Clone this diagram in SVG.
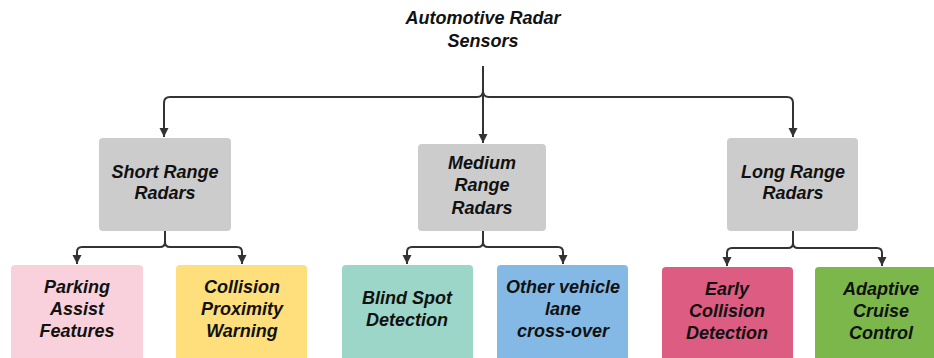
<svg xmlns="http://www.w3.org/2000/svg" width="934" height="358" viewBox="0 0 934 358">
<style>
.t{font-family:"Liberation Sans",Arial,sans-serif;font-size:18px;font-weight:bold;font-style:italic;fill:#111;text-anchor:middle;dominant-baseline:central}
.c{fill:none;stroke:#333;stroke-width:2;marker-end:url(#a)}
.g{fill:#cccccc}
</style>
<defs>
<marker id="a" markerWidth="10" markerHeight="10" refX="9" refY="5" orient="auto" markerUnits="userSpaceOnUse">
<path d="M0,0.5 L9,5 L0,9.5 Z" fill="#333"/>
</marker>
</defs>
<rect width="934" height="358" fill="#fff"/>
<g id="connectors">
<path class="c" d="M483,66 V91 Q483,97 477,97 H170 Q164,97 164,103 V137"/>
<path class="c" d="M483,66 V91 Q483,97 489,97 H787 Q793,97 793,103 V137"/>
<path class="c" d="M483,66 V143"/>
<path class="c" d="M165,231 V242 Q165,247 160,247 H82 Q77,247 77,252 V264"/>
<path class="c" d="M165,231 V242 Q165,247 170,247 H237 Q242,247 242,252 V264"/>
<path class="c" d="M483,231 V242 Q483,247 478,247 H412 Q407,247 407,252 V264"/>
<path class="c" d="M483,231 V242 Q483,247 488,247 H558 Q563,247 563,252 V264"/>
<path class="c" d="M793,231 V243 Q793,248 788,248 H732 Q727,248 727,253 V266"/>
<path class="c" d="M793,231 V243 Q793,248 798,248 H877 Q882,248 882,253 V266"/>
</g>
<g id="root">
<text class="t" x="483" y="18">Automotive Radar</text>
<text class="t" x="483" y="41">Sensors</text>
</g>
<g id="short">
<rect class="g" x="99" y="138" width="132" height="93" rx="4"/>
<text class="t" x="165" y="172">Short Range</text>
<text class="t" x="165" y="193">Radars</text>
</g>
<g id="medium">
<rect class="g" x="418" y="144" width="128" height="87" rx="4"/>
<text class="t" x="482" y="163">Medium</text>
<text class="t" x="482" y="185">Range</text>
<text class="t" x="482" y="208">Radars</text>
</g>
<g id="long">
<rect class="g" x="727" y="138" width="131" height="93" rx="4"/>
<text class="t" x="793" y="172">Long Range</text>
<text class="t" x="793" y="193">Radars</text>
</g>
<g id="parking">
<rect x="11" y="265" width="132" height="100" rx="4" fill="#f8d1dc"/>
<text class="t" x="77" y="287">Parking</text>
<text class="t" x="77" y="309">Assist</text>
<text class="t" x="77" y="331">Features</text>
</g>
<g id="collision">
<rect x="176" y="265" width="131" height="100" rx="4" fill="#fedf7b"/>
<text class="t" x="242" y="287">Collision</text>
<text class="t" x="242" y="309">Proximity</text>
<text class="t" x="242" y="331">Warning</text>
</g>
<g id="blindspot">
<rect x="342" y="265" width="131" height="100" rx="4" fill="#9bd6c9"/>
<text class="t" x="407" y="298">Blind Spot</text>
<text class="t" x="407" y="320">Detection</text>
</g>
<g id="othervehicle">
<rect x="497" y="265" width="131" height="100" rx="4" fill="#84b9e5"/>
<text class="t" x="563" y="287">Other vehicle</text>
<text class="t" x="563" y="309">lane</text>
<text class="t" x="563" y="331">cross-over</text>
</g>
<g id="early">
<rect x="662" y="267" width="131" height="100" rx="4" fill="#dd5d82"/>
<text class="t" x="727" y="289">Early</text>
<text class="t" x="727" y="311">Collision</text>
<text class="t" x="727" y="333">Detection</text>
</g>
<g id="adaptive">
<rect x="815" y="267" width="131" height="100" rx="4" fill="#7bb74a"/>
<text class="t" x="881" y="289">Adaptive</text>
<text class="t" x="881" y="311">Cruise</text>
<text class="t" x="881" y="333">Control</text>
</g>
</svg>
